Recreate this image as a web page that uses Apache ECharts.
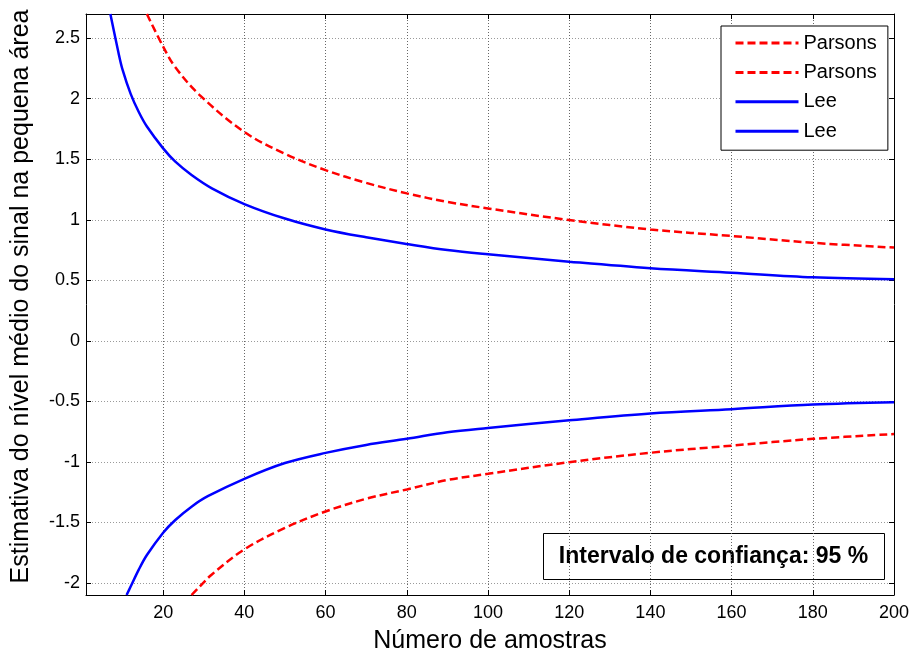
<!DOCTYPE html>
<html lang="pt">
<head>
    <meta charset="UTF-8">
    <title>Intervalo de confiança - Parsons x Lee</title>
    <script src="https://cdn.jsdelivr.net/npm/echarts@6/dist/echarts.min.js"></script>
    <style>
        html, body { margin: 0; padding: 0; background: #fff; }
    </style>
</head>
<body>
    <div id="main" style="width: 913px; height: 659px;"></div>
    <script>
        // valores
        var parsonsSupN = [16, 20, 23, 29, 40, 50, 60, 70, 80, 90, 100, 120, 140, 160, 180, 200];
        var parsonsSup  = [2.70, 2.43, 2.26, 2.03, 1.725, 1.545, 1.41, 1.305, 1.218, 1.148, 1.094, 0.998, 0.92, 0.866, 0.81, 0.77];

        var parsonsInfN = [27, 29, 32, 40, 50, 60, 70, 80, 90, 100, 120, 140, 160, 180, 200];
        var parsonsInf  = [-2.10, -2.03, -1.93, -1.723, -1.545, -1.41, -1.305, -1.228, -1.15, -1.099, -1.003, -0.925, -0.866, -0.81, -0.77];

        var leeSupN = [7, 9, 10, 12, 14, 16, 20, 23, 27, 32, 40, 50, 60, 70, 80, 90, 100, 120, 140, 160, 180, 200];
        var leeSup  = [2.70, 2.38, 2.24, 2.04, 1.89, 1.77, 1.59, 1.48, 1.37, 1.26, 1.13, 1.01, 0.92, 0.855, 0.80, 0.75, 0.715, 0.654, 0.60, 0.563, 0.525, 0.509];

        var leeInfN = [11, 12, 14, 16, 20, 23, 27, 31, 40, 50, 60, 70, 80, 90, 100, 120, 140, 160, 180, 200];
        var leeInf  = [-2.10, -2.03, -1.89, -1.77, -1.585, -1.48, -1.37, -1.284, -1.14, -1.01, -0.926, -0.86, -0.81, -0.755, -0.72, -0.657, -0.60, -0.565, -0.527, -0.508];

        var xTicks = [20, 40, 60, 80, 100, 120, 140, 160, 180, 200];
        var yTicks = [-2, -1.5, -1, -0.5, 0, 0.5, 1, 1.5, 2, 2.5];

        var fonte = '"Liberation Sans", Arial, sans-serif';

        function pares(xs, ys) {
            return xs.map(function (x, i) { return [x, ys[i]]; });
        }

        var chart = echarts.init(document.getElementById('main'));

        var eixoLinha = { show: true, onZero: false, lineStyle: { color: '#000', width: 1 } };

        function eixoX(pos, comRotulo) {
            return {
                type: 'value', position: pos, min: 1, max: 200,
                axisLine: eixoLinha,
                axisTick: { show: true, inside: true, length: 5, customValues: xTicks, lineStyle: { color: '#000' } },
                axisLabel: { show: comRotulo, customValues: xTicks, margin: 9, color: '#000', fontSize: 18, fontFamily: fonte },
                splitLine: comRotulo
                    ? { show: true, customValues: xTicks, lineStyle: { color: '#666', type: [1, 2], width: 1 } }
                    : { show: false },
                name: comRotulo ? 'Número de amostras' : '',
                nameLocation: 'middle', nameGap: 34,
                nameTextStyle: { color: '#000', fontSize: 25, fontFamily: fonte }
            };
        }

        function eixoY(pos, comRotulo) {
            return {
                type: 'value', position: pos, min: -2.1, max: 2.7,
                axisLine: eixoLinha,
                axisTick: { show: true, inside: true, length: 5, customValues: yTicks, lineStyle: { color: '#000' } },
                axisLabel: { show: comRotulo, customValues: yTicks, margin: 6, color: '#000', fontSize: 18, fontFamily: fonte },
                splitLine: comRotulo
                    ? { show: true, customValues: yTicks, lineStyle: { color: '#9a9a9a', type: [1, 2], width: 1 } }
                    : { show: false },
                name: comRotulo ? 'Estimativa do nível médio do sinal na pequena área' : '',
                nameLocation: 'middle', nameGap: 52, nameRotate: 90,
                nameTextStyle: { color: '#000', fontSize: 25, fontFamily: fonte, padding: [0, 0, 0, 16] }
            };
        }

        var vermelho = { color: '#ff0000', width: 2.5, type: [8, 4] };
        var azul = { color: '#0000ff', width: 2.5, type: 'solid' };

        function serie(nome, dados, estilo) {
            return {
                name: nome, type: 'line', data: dados,
                symbol: 'none', smooth: 0.35,
                lineStyle: estilo, itemStyle: { color: estilo.color },
                emphasis: { disabled: true }, clip: true
            };
        }

        var option = {
            animation: false,
            backgroundColor: '#fff',
            grid: { left: 86, right: 19, top: 14, bottom: 63 },
            xAxis: [eixoX('bottom', true), eixoX('top', false)],
            yAxis: [eixoY('left', true), eixoY('right', false)],
            legend: {
                orient: 'vertical', left: 721, top: 26,
                padding: [7, 11, 9, 13],
                itemWidth: 63, itemHeight: 20, itemGap: 9.4,
                backgroundColor: '#fff', borderColor: '#000', borderWidth: 1, borderRadius: 0,
                itemStyle: { opacity: 0, borderWidth: 0 },
                lineStyle: { width: 3 },
                textStyle: { color: '#000', fontSize: 20, lineHeight: 20, fontFamily: fonte },
                formatter: function (nome) { return nome.split(' ')[0]; },
                data: [
                    { name: 'Parsons sup', lineStyle: { type: [8, 4] } },
                    { name: 'Parsons inf', lineStyle: { type: [8, 4] } },
                    'Lee sup', 'Lee inf'
                ]
            },
            graphic: [{
                type: 'group', left: 543, top: 533,
                children: [
                    { type: 'rect', shape: { x: 0, y: 0, width: 341, height: 46 },
                      style: { fill: '#fff', stroke: '#000', lineWidth: 1 } },
                    { type: 'text', x: 170, y: 23,
                      style: { text: 'Intervalo de confiança: 95 %', fill: '#000',
                               font: 'bold 23px "Liberation Sans", Arial, sans-serif',
                               align: 'center', verticalAlign: 'middle' } }
                ]
            }],
            series: [
                serie('Parsons sup', pares(parsonsSupN, parsonsSup), vermelho),
                serie('Parsons inf', pares(parsonsInfN, parsonsInf), vermelho),
                serie('Lee sup', pares(leeSupN, leeSup), azul),
                serie('Lee inf', pares(leeInfN, leeInf), azul)
            ]
        };

        chart.setOption(option);
    </script>
</body>
</html>
